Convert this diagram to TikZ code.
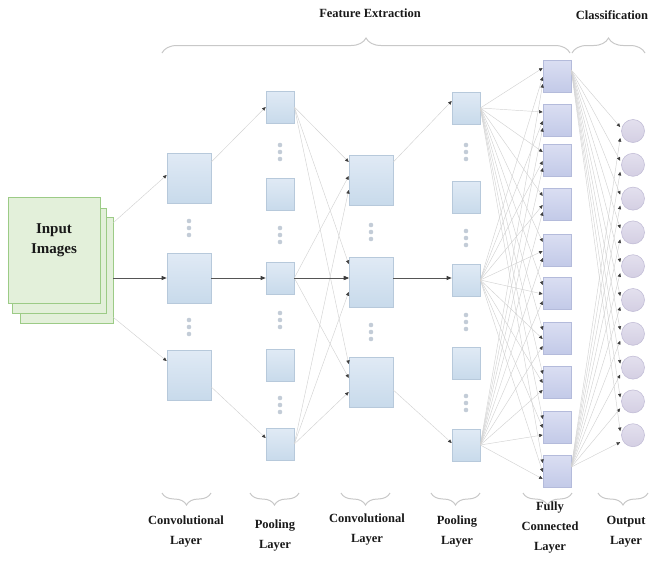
\documentclass[tikz,border=0pt]{standalone}
\usepackage{fontspec}
\setmainfont{Liberation Serif}
\usetikzlibrary{arrows.meta,calc,decorations.pathreplacing}
\definecolor{boxtop}{HTML}{E0EAF5}
\definecolor{boxbot}{HTML}{C8DAEB}
\definecolor{boxborder}{HTML}{B7C9DB}
\definecolor{fctop}{HTML}{DADEF2}
\definecolor{fcbot}{HTML}{C3CAE8}
\definecolor{fcborder}{HTML}{B4BBDB}
\definecolor{outtop}{HTML}{E3E0EE}
\definecolor{outbot}{HTML}{D4CFE3}
\definecolor{outborder}{HTML}{C3BED7}
\definecolor{pagefill}{HTML}{E3F0DA}
\definecolor{pageborder}{HTML}{9CCB86}
\definecolor{linegray}{HTML}{D2D2D2}
\definecolor{tipgray}{HTML}{3C3C3C}
\definecolor{darkline}{HTML}{555555}
\definecolor{bracegray}{HTML}{C8C8C8}
\definecolor{dotgray}{HTML}{C3CCD7}
\tikzset{
  convbox/.style={draw=boxborder, top color=boxtop, bottom color=boxbot,
    minimum width=44pt, minimum height=50pt, inner sep=0pt, line width=0.6pt},
  poolbox/.style={convbox, minimum width=28pt, minimum height=32pt},
  fcbox/.style={draw=fcborder, top color=fctop, bottom color=fcbot,
    minimum width=28pt, minimum height=32pt, inner sep=0pt, line width=0.6pt},
  outnode/.style={circle, draw=outborder, top color=outtop, bottom color=outbot,
    minimum size=23pt, inner sep=0pt, line width=0.6pt},
  page/.style={draw=pageborder, fill=pagefill, line width=0.8pt, inner sep=0pt},
  conn/.style={draw=linegray, line width=0.45pt,
    -{Triangle[length=3.6pt,width=3.2pt,color=tipgray]}},
  mainconn/.style={draw=darkline, line width=0.8pt,
    -{Triangle[length=5pt,width=4pt,color=tipgray]}},
  lbl/.style={font=\fontsize{12.5}{20}\selectfont\bfseries, align=center, text=black!90},
  brc/.style={draw=bracegray, line width=1pt, decorate,
    decoration={brace, amplitude=#1}},
  brc/.default=13pt
}
\begin{document}
\begin{tikzpicture}[x=1pt,y=-1pt]
\useasboundingbox (0,0) rectangle (654,563);

% input pages
\node[page, minimum width=93pt, minimum height=106pt] (i3) at (66.5,270) {};
\node[page, minimum width=94pt, minimum height=105pt] (i2) at (59,260.5) {};
\node[page, minimum width=92pt, minimum height=106pt] (i1) at (54,250) {};
\node[font=\fontsize{15}{20}\selectfont\bfseries, align=center, text=black!90] (intxt) at (54,240) {Input\\Images};

% conv layer 1
\node[convbox] (c1a) at (189,178) {};
\node[convbox] (c1b) at (189,278) {};
\node[convbox] (c1c) at (189,375) {};

% pooling layer 1
\node[poolbox] (p1a) at (280,107) {};
\node[poolbox] (p1b) at (280,194) {};
\node[poolbox] (p1c) at (280,278) {};
\node[poolbox] (p1d) at (280,365) {};
\node[poolbox] (p1e) at (280,444) {};

% conv layer 2
\node[convbox] (c2a) at (371,180) {};
\node[convbox] (c2b) at (371,282) {};
\node[convbox] (c2c) at (371,382) {};

% pooling layer 2
\node[poolbox] (p2a) at (466,108) {};
\node[poolbox] (p2b) at (466,197) {};
\node[poolbox] (p2c) at (466,280) {};
\node[poolbox] (p2d) at (466,363) {};
\node[poolbox] (p2e) at (466,445) {};

% fully connected
\foreach \y [count=\k] in {76,120,160,204,250,293,338,382,427,471}
  \node[fcbox] (f\k) at (557,\y) {};

% output
\foreach \k in {1,...,10}
  \node[outnode] (o\k) at (633,{131+33.8*(\k-1)}) {};

% vertical dots
\foreach \x/\y in {189/228,189/327,280/152,280/235,280/320,280/405,371/232,371/332,466/152,466/238,466/322,466/403}
  \foreach \d in {-7,0,7}
    \fill[dotgray] (\x,{\y+(\d)}) circle (2.3pt);

% input -> conv1
\draw[conn] ($(i3.north east)+(0,6)$) -- ($(c1a.west)+(0,-3)$);
\draw[conn] ($(i3.south east)+(0,-6)$) -- ($(c1c.west)+(0,-14)$);
\draw[mainconn] ($(i3.east)+(0,8)$) -- (c1b.west);

% conv1 -> pool1
\draw[conn] ($(c1a.east)+(0,-16)$) -- (p1a.west);
\draw[conn] ($(c1c.east)+(0,12)$) -- ($(p1e.west)+(0,-6)$);
\draw[mainconn] (c1b.east) -- (p1c.west);

% pool1 -> conv2
\foreach \s/\o in {p1a/-18,p1c/-4,p1e/10}
  \foreach \t in {c2a,c2b,c2c}
    \draw[conn] (\s.east) -- ($(\t.west)+(0,\o)$);
\draw[mainconn] (p1c.east) -- ($(c2b.west)+(0,-4)$);

% conv2 -> pool2
\draw[conn] ($(c2a.east)+(0,-18)$) -- ($(p2a.west)+(0,-7)$);
\draw[conn] ($(c2c.east)+(0,8)$) -- ($(p2e.west)+(0,-2)$);
\draw[mainconn] ($(c2b.east)+(0,-4)$) -- ($(p2c.west)+(0,-2)$);

% pool2 -> fully connected
\foreach \s/\o in {p2a/-8,p2c/1,p2e/8}
  \foreach \k in {1,...,10}
    \draw[conn] (\s.east) -- ($(f\k.west)+(0,\o)$);

% fully connected -> output
\foreach \k in {1,...,10} {
  \draw[conn] ($(f1.east)+(0,-6)$) -- ($(o\k.west)+(-1,-4)$);
  \draw[conn] ($(f10.east)+(0,-4)$) -- ($(o\k.west)+(-1,7)$);
}

% top braces and labels
\draw[brc=15pt] (162,53) -- (570,53);
\draw[brc=15pt] (572,53) -- (645,53);
\node[lbl] (tfe) at (370,13) {Feature Extraction};
\node[lbl] (tcl) at (612,15) {Classification};

% bottom braces
\draw[brc=12pt] (211,493) -- (162,493);
\draw[brc=12pt] (299,493) -- (250,493);
\draw[brc=12pt] (390,493) -- (341,493);
\draw[brc=12pt] (480,493) -- (431,493);
\draw[brc=12pt] (572,493) -- (523,493);
\draw[brc=12pt] (648,493) -- (598,493);

% bottom labels
\node[lbl] (l1) at (186,532) {Convolutional\\Layer};
\node[lbl] (l2) at (275,536) {Pooling\\Layer};
\node[lbl] (l3) at (367,530) {Convolutional\\Layer};
\node[lbl] (l4) at (457,532) {Pooling\\Layer};
\node[lbl] (l5) at (550,528) {Fully\\Connected\\Layer};
\node[lbl] (l6) at (626,532) {Output\\Layer};
\end{tikzpicture}
\end{document}
